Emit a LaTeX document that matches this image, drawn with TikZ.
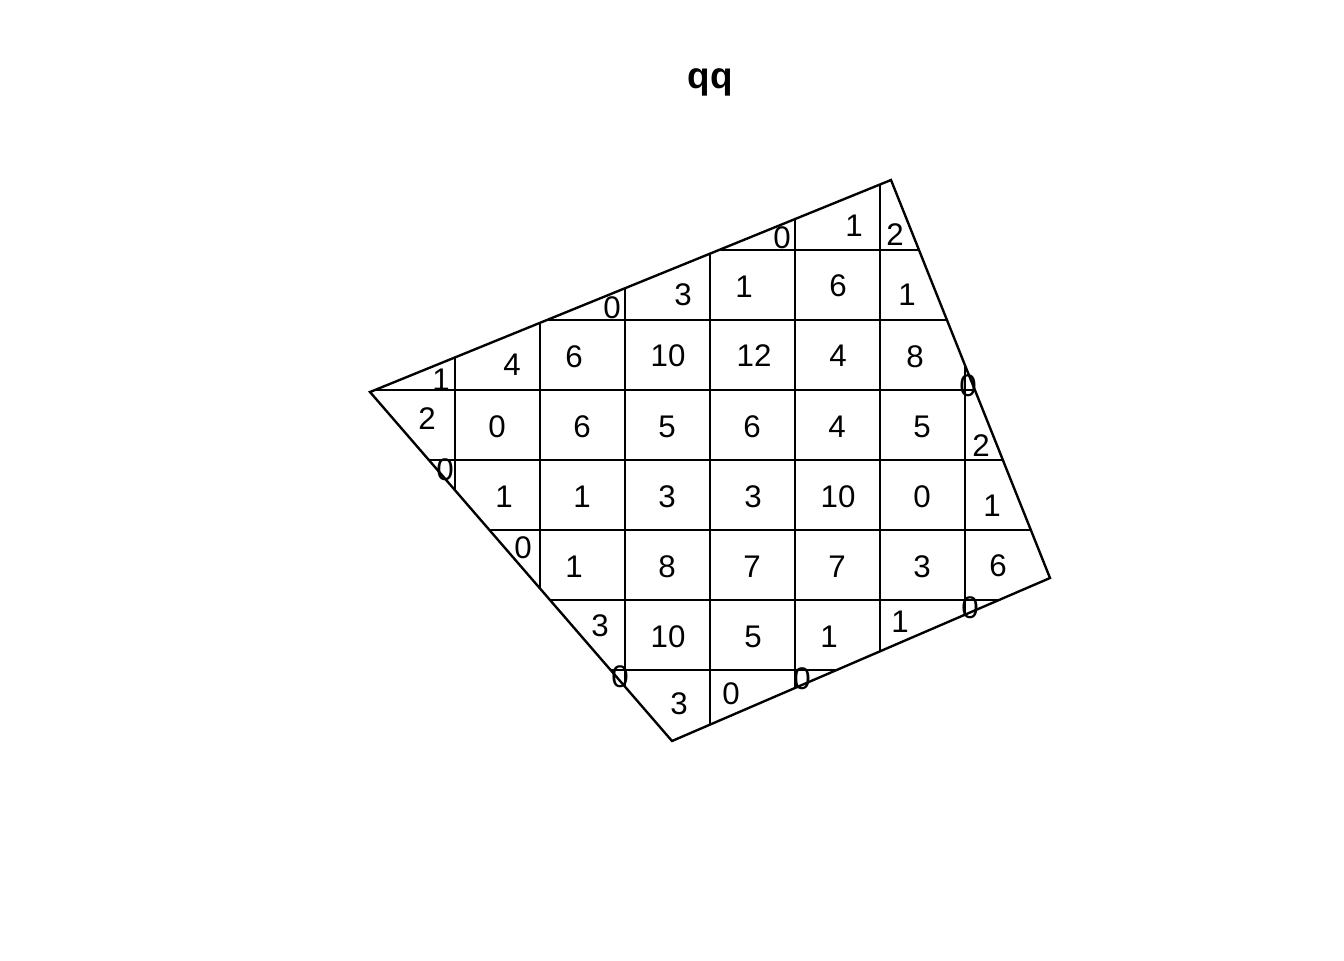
\documentclass[tikz,border=0pt]{standalone}
\usepackage{fontspec}
\setmainfont{Liberation Sans}
\usepackage{tikz}
\tikzset{cnt/.style={font=\fontsize{17.8}{17.8}\selectfont,inner sep=0pt}}

\begin{document}
\begin{tikzpicture}[x=0.02cm,y=-0.02cm,line width=1.35pt]
			\useasboundingbox (0,0) rectangle (1344,960);
			\coordinate (A) at (370,392);
			\coordinate (B) at (891,180);
			\coordinate (C) at (1050,578);
			\coordinate (D) at (672,741);
			\node[font=\fontsize{21}{21}\selectfont\bfseries] (title) at (710,82) {qq};
			\begin{scope}
			\clip (A)--(B)--(C)--(D)--cycle;
			\draw [] (455,150)-- (455,780);
			\draw [] (540,150)-- (540,780);
			\draw [] (625,150)-- (625,780);
			\draw [] (710,150)-- (710,780);
			\draw [] (795,150)-- (795,780);
			\draw [] (880,150)-- (880,780);
			\draw [] (965,150)-- (965,780);
			\draw [] (340,250)-- (1080,250);
			\draw [] (340,320)-- (1080,320);
			\draw [] (340,390)-- (1080,390);
			\draw [] (340,460)-- (1080,460);
			\draw [] (340,530)-- (1080,530);
			\draw [] (340,600)-- (1080,600);
			\draw [] (340,670)-- (1080,670);
			\end{scope}
			\draw [line join=miter] (A)-- (B)-- (C)-- (D)-- cycle;
			% row 1
			\node[cnt] (r1a) at (782,238) {0};
			\node[cnt] (r1b) at (854,226) {1};
			\node[cnt] (r1c) at (895,235) {2};
			% row 2
			\node[cnt] (r2a) at (612,308) {0};
			\node[cnt] (r2b) at (683,295) {3};
			\node[cnt] (r2c) at (744,287) {1};
			\node[cnt] (r2d) at (838,286) {6};
			\node[cnt] (r2e) at (907,295) {1};
			% row 3
			\node[cnt] (r3a) at (441,380) {1};
			\node[cnt] (r3b) at (512,365) {4};
			\node[cnt] (r3c) at (574,357) {6};
			\node[cnt] (r3d) at (668,356) {10};
			\node[cnt] (r3e) at (754,356) {12};
			\node[cnt] (r3f) at (838,356) {4};
			\node[cnt] (r3g) at (915,357) {8};
			\node[cnt] (r3h) at (968,386) {0};
			% row 4
			\node[cnt] (r4a) at (427,419) {2};
			\node[cnt] (r4b) at (497,427) {0};
			\node[cnt] (r4c) at (582,427) {6};
			\node[cnt] (r4d) at (667,427) {5};
			\node[cnt] (r4e) at (752,427) {6};
			\node[cnt] (r4f) at (837,427) {4};
			\node[cnt] (r4g) at (922,427) {5};
			\node[cnt] (r4h) at (981,446) {2};
			% row 5
			\node[cnt] (r5a) at (445,470) {0};
			\node[cnt] (r5b) at (504,497) {1};
			\node[cnt] (r5c) at (582,497) {1};
			\node[cnt] (r5d) at (667,497) {3};
			\node[cnt] (r5e) at (753,497) {3};
			\node[cnt] (r5f) at (838,497) {10};
			\node[cnt] (r5g) at (922,497) {0};
			\node[cnt] (r5h) at (992,506) {1};
			% row 6
			\node[cnt] (r6a) at (523,548) {0};
			\node[cnt] (r6b) at (574,567) {1};
			\node[cnt] (r6c) at (667,567) {8};
			\node[cnt] (r6d) at (752,567) {7};
			\node[cnt] (r6e) at (837,567) {7};
			\node[cnt] (r6f) at (922,567) {3};
			\node[cnt] (r6g) at (998,566) {6};
			% row 7
			\node[cnt] (r7a) at (600,626) {3};
			\node[cnt] (r7b) at (668,637) {10};
			\node[cnt] (r7c) at (753,637) {5};
			\node[cnt] (r7d) at (829,637) {1};
			\node[cnt] (r7e) at (900,622) {1};
			\node[cnt] (r7f) at (970,608) {0};
			% row 8
			\node[cnt] (r8a) at (620,677) {0};
			\node[cnt] (r8b) at (679,704) {3};
			\node[cnt] (r8c) at (731,694) {0};
			\node[cnt] (r8d) at (802,679) {0};
		\end{tikzpicture}
\end{document}
